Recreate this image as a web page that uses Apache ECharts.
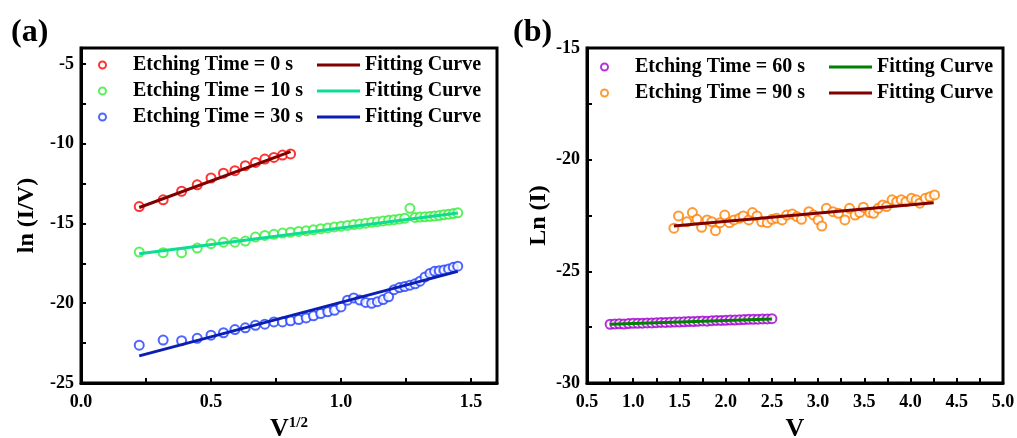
<!DOCTYPE html>
<html>
<head>
<meta charset="utf-8">
<script src="https://cdn.jsdelivr.net/npm/echarts@6/dist/echarts.min.js"></script>
<style>
  html, body { margin: 0; background: #fff; }
  #chart { width: 1017px; height: 438px; }
</style>
</head>
<body>
<div id="chart"></div>
<script>
// ---- panel (a): ln(I/V) vs V^1/2 ----
const xRed = [0.224, 0.316, 0.387, 0.447, 0.500, 0.548, 0.592, 0.632, 0.671, 0.707, 0.742, 0.775, 0.806]
const yRed = [-13.94, -13.52, -12.98, -12.58, -12.15, -11.85, -11.69, -11.38, -11.17, -10.96, -10.86, -10.71, -10.64]

const xLong = [0.224, 0.316, 0.387, 0.447, 0.500, 0.548, 0.592, 0.632, 0.671, 0.707,
  0.742, 0.775, 0.806, 0.837, 0.866, 0.894, 0.922, 0.949, 0.975, 1.000,
  1.025, 1.049, 1.072, 1.095, 1.118, 1.140, 1.162, 1.183, 1.204, 1.225,
  1.245, 1.265, 1.285, 1.304, 1.323, 1.342, 1.360, 1.378, 1.396, 1.414,
  1.432, 1.449]
const yGreen = [-16.79, -16.83, -16.83, -16.54, -16.27, -16.17, -16.17, -16.10, -15.85, -15.75,
  -15.68, -15.60, -15.55, -15.50, -15.45, -15.40, -15.33, -15.28, -15.22, -15.18,
  -15.12, -15.07, -15.03, -14.98, -14.93, -14.89, -14.84, -14.80, -14.76, -14.72,
  -14.68, -14.05, -14.62, -14.60, -14.58, -14.56, -14.53, -14.50, -14.46, -14.42,
  -14.38, -14.33]
const yBlue = [-22.63, -22.31, -22.35, -22.20, -22.00, -21.85, -21.65, -21.54, -21.38, -21.31,
  -21.17, -21.17, -21.10, -21.02, -20.92, -20.79, -20.65, -20.54, -20.44, -20.23,
  -19.81, -19.67, -19.80, -19.95, -20.00, -19.90, -19.77, -19.60, -19.15, -19.02,
  -18.95, -18.87, -18.78, -18.62, -18.35, -18.13, -18.00, -17.96, -17.92, -17.85,
  -17.75, -17.68]

// fitted straight lines (end points)
const fitRedX = [0.224, 0.806], fitRedY = [-14.0, -10.5]
const fitGreenX = [0.224, 1.449], fitGreenY = [-16.9, -14.35]
const fitBlueX = [0.224, 1.449], fitBlueY = [-23.3, -18.0]

// ---- panel (b): Ln(I) vs V ----
const xPurple = [0.75, 0.80, 0.85, 0.90, 0.95, 1.00, 1.05, 1.10, 1.15, 1.20, 1.25, 1.30,
  1.35, 1.40, 1.45, 1.50, 1.55, 1.60, 1.65, 1.70, 1.75, 1.80, 1.85, 1.90,
  1.95, 2.00, 2.05, 2.10, 2.15, 2.20, 2.25, 2.30, 2.35, 2.40, 2.45, 2.50]
const yPurple = [-27.37, -27.36, -27.35, -27.36, -27.34, -27.33, -27.33, -27.32, -27.31, -27.31, -27.30, -27.29,
  -27.29, -27.28, -27.27, -27.27, -27.26, -27.25, -27.25, -27.24, -27.22, -27.23, -27.21, -27.20,
  -27.20, -27.19, -27.18, -27.18, -27.17, -27.16, -27.15, -27.15, -27.14, -27.13, -27.13, -27.12]

const xOrange = [1.44, 1.49, 1.58, 1.64, 1.69, 1.74, 1.80, 1.85, 1.89, 1.94, 1.99, 2.04,
  2.09, 2.15, 2.19, 2.25, 2.29, 2.34, 2.39, 2.45, 2.50, 2.55, 2.61, 2.66,
  2.72, 2.77, 2.82, 2.90, 2.95, 3.00, 3.04, 3.09, 3.16, 3.22, 3.29, 3.34,
  3.40, 3.45, 3.49, 3.56, 3.60, 3.65, 3.70, 3.74, 3.80, 3.85, 3.90, 3.95,
  4.01, 4.06, 4.10, 4.16, 4.21, 4.26]
const yOrange = [-23.07, -22.52, -22.78, -22.37, -22.67, -23.03, -22.70, -22.78, -23.18, -22.82, -22.48, -22.82,
  -22.70, -22.62, -22.52, -22.70, -22.37, -22.52, -22.78, -22.82, -22.67, -22.62, -22.70, -22.48,
  -22.43, -22.55, -22.67, -22.33, -22.48, -22.70, -22.97, -22.18, -22.33, -22.40, -22.70, -22.18,
  -22.48, -22.37, -22.13, -22.37, -22.40, -22.18, -22.03, -22.10, -21.80, -21.88, -21.80, -21.88,
  -21.73, -21.80, -21.95, -21.73, -21.66, -21.58]

const fitGreenBX = [0.75, 2.5], fitGreenBY = [-27.37, -27.13]
const fitOrangeX = [1.44, 4.25], fitOrangeY = [-22.97, -21.93]

const font = "'Times New Roman', 'Liberation Serif', serif"
const pairs = (xs, ys) => xs.map((x, i) => [x, ys[i]])

const tickStyle = { color: '#000', width: 2 }

const makeAxis = (gridIndex, min, max, interval, extra) => Object.assign({
  type: 'value',
  gridIndex,
  min,
  max,
  interval,
  splitLine: { show: false },
  axisLine: { onZero: false, lineStyle: { color: '#000', width: 3 } },
  axisTick: { inside: true, length: 5, lineStyle: tickStyle },
  minorTick: { show: true, splitNumber: 2, length: 5, lineStyle: tickStyle },
  nameLocation: 'middle',
  nameTextStyle: { color: '#000', fontFamily: font, fontWeight: 'bold', fontSize: 24 }
}, extra)

const scatter = (name, xi, xs, ys, color) => ({
  name,
  type: 'scatter',
  xAxisIndex: xi,
  yAxisIndex: xi,
  symbol: 'emptyCircle',
  symbolSize: 9,
  itemStyle: { color, borderWidth: 2 },
  data: pairs(xs, ys)
})

const fit = (name, xi, xs, ys, color) => ({
  name,
  type: 'line',
  xAxisIndex: xi,
  yAxisIndex: xi,
  symbol: 'none',
  z: 3,
  itemStyle: { color },
  lineStyle: { color, width: 3 },
  data: pairs(xs, ys)
})

const legendText = { color: '#000', fontFamily: font, fontWeight: 'bold', fontSize: 20, lineHeight: 20 }
const dotText = Object.assign({}, legendText, { padding: [0, 0, 0, 22] })
const dotItem = (name, color) => ({ name, icon: 'circle', itemStyle: { color: '#fff', borderColor: color, borderWidth: 2 } })
const barItem = name => ({ name, icon: 'rect' })
const tickLabel = (margin, showMax, fmt) => ({
  color: '#000', fontFamily: font, fontWeight: 'bold', fontSize: 18, margin, showMaxLabel: showMax, formatter: fmt
})
const oneDecimal = v => v.toFixed(1)
const plain = v => String(v)

const chart = echarts.init(document.getElementById('chart'))
chart.setOption({
  animation: false,
  title: [
    { text: '(a)', left: 6, top: 12, textStyle: { fontFamily: font, fontWeight: 'bold', fontSize: 32, color: '#000' } },
    { text: '(b)', left: 508, top: 12, textStyle: { fontFamily: font, fontWeight: 'bold', fontSize: 32, color: '#000' } }
  ],
  grid: [
    { left: 81, right: 520, top: 48, bottom: 55, show: true, borderColor: '#000', borderWidth: 3, outerBoundsMode: 'none' },
    { left: 587, right: 14, top: 48, bottom: 55, show: true, borderColor: '#000', borderWidth: 3, outerBoundsMode: 'none' }
  ],
  xAxis: [
    makeAxis(0, 0, 1.6, 0.5, {
      name: '{v|V}{s|1/2}',
      nameGap: 22,
      axisLabel: tickLabel(10, false, oneDecimal),
      nameTextStyle: {
        color: '#000', fontFamily: font, fontWeight: 'bold',
        rich: {
          v: { fontFamily: font, fontWeight: 'bold', fontSize: 26, color: '#000' },
          s: { fontFamily: font, fontWeight: 'bold', fontSize: 15, color: '#000', verticalAlign: 'top' }
        }
      }
    }),
    makeAxis(1, 0.5, 5.0, 0.5, {
      name: 'V',
      nameGap: 22,
      axisLabel: tickLabel(10, true, oneDecimal),
      nameTextStyle: { color: '#000', fontFamily: font, fontWeight: 'bold', fontSize: 26 }
    })
  ],
  yAxis: [
    makeAxis(0, -25, -4, 5, { name: 'ln (I/V)', nameGap: 42, axisLabel: tickLabel(7, false, plain) }),
    makeAxis(1, -30, -15, 5, { name: 'Ln (I)', nameGap: 36, axisLabel: tickLabel(7, true, plain) })
  ],
  legend: [
    {
      orient: 'vertical', left: 93, top: 50, itemWidth: 7, itemHeight: 7, itemGap: 6,
      textStyle: dotText, selectedMode: false,
      data: [dotItem('Etching Time = 0 s', '#ff0000'), dotItem('Etching Time = 10 s', '#33ee33'), dotItem('Etching Time = 30 s', '#2040ff')]
    },
    {
      orient: 'vertical', left: 312, top: 50, itemWidth: 43, itemHeight: 3, itemGap: 6,
      textStyle: legendText, selectedMode: false, formatter: () => 'Fitting Curve',
      data: [barItem('fit 0 s'), barItem('fit 10 s'), barItem('fit 30 s')]
    },
    {
      orient: 'vertical', left: 595, top: 52, itemWidth: 7, itemHeight: 7, itemGap: 6,
      textStyle: dotText, selectedMode: false,
      data: [dotItem('Etching Time = 60 s', '#a000d0'), dotItem('Etching Time = 90 s', '#ff8000')]
    },
    {
      orient: 'vertical', left: 824, top: 52, itemWidth: 43, itemHeight: 3, itemGap: 6,
      textStyle: legendText, selectedMode: false, formatter: () => 'Fitting Curve',
      data: [barItem('fit 60 s'), barItem('fit 90 s')]
    }
  ],
  series: [
    scatter('Etching Time = 0 s', 0, xRed, yRed, '#ff0000'),
    scatter('Etching Time = 10 s', 0, xLong, yGreen, '#33ee33'),
    scatter('Etching Time = 30 s', 0, xLong, yBlue, '#2040ff'),
    fit('fit 0 s', 0, fitRedX, fitRedY, '#800000'),
    fit('fit 10 s', 0, fitGreenX, fitGreenY, '#0cdc94'),
    fit('fit 30 s', 0, fitBlueX, fitBlueY, '#0a1eb4'),
    scatter('Etching Time = 60 s', 1, xPurple, yPurple, '#a000d0'),
    scatter('Etching Time = 90 s', 1, xOrange, yOrange, '#ff8000'),
    fit('fit 60 s', 1, fitGreenBX, fitGreenBY, '#008000'),
    fit('fit 90 s', 1, fitOrangeX, fitOrangeY, '#800000')
  ]
})
</script>
</body>
</html>
